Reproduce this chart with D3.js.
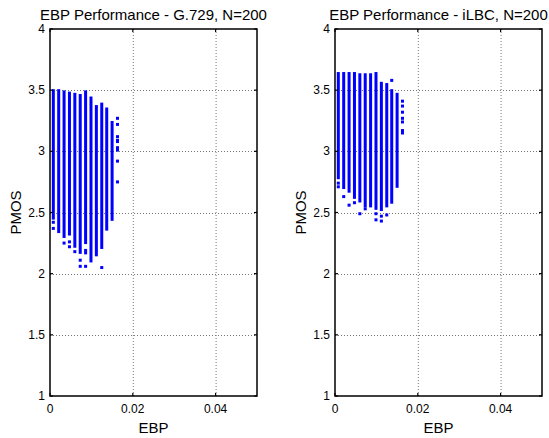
<!DOCTYPE html>
<html>
<head>
<meta charset="utf-8">
<script src="https://cdn.jsdelivr.net/npm/d3@7"></script>
<style>
  html, body { margin: 0; padding: 0; background: #fff; }
  svg { display: block; }
</style>
</head>
<body>
<svg id="chart" width="549" height="438"></svg>
<script>
// EBP value of each vertical stripe of points
const ebp = [0.0008, 0.0021, 0.0034, 0.0047, 0.0060, 0.0073, 0.0086,
             0.0099, 0.0112, 0.0125, 0.0137, 0.0150, 0.0163];

// G.729: dense PMOS range per stripe (null = only scattered points)
const g729Top    = [3.50, 3.50, 3.49, 3.48, 3.47, 3.46, 3.49, 3.44, 3.37, 3.39, 3.35, 3.24, null];
const g729Bottom = [2.45, 2.34, 2.30, 2.32, 2.22, 2.17, 2.25, 2.10, 2.15, 2.21, 2.36, 2.44, null];
// isolated points: [stripe index, PMOS]
const g729Points = [
  [0, 2.42], [0, 2.37], [2, 2.25], [3, 2.26], [3, 2.22], [4, 2.18],
  [5, 2.11], [5, 2.06], [6, 2.19], [6, 2.17], [6, 2.06], [9, 2.05],
  [12, 3.27], [12, 3.22], [12, 3.12], [12, 3.09], [12, 3.08], [12, 3.03],
  [12, 3.01], [12, 2.92], [12, 2.75]
];

// iLBC
const ilbcTop    = [3.64, 3.64, 3.64, 3.64, 3.63, 3.63, 3.63, 3.64, 3.56, 3.55, 3.50, 3.47, null];
const ilbcBottom = [2.78, 2.70, 2.67, 2.62, 2.59, 2.55, 2.55, 2.53, 2.52, 2.55, 2.58, 2.71, null];
const ilbcPoints = [
  [0, 2.74], [0, 2.71], [1, 2.63], [2, 2.56], [3, 2.58], [4, 2.49],
  [5, 2.53], [7, 2.49], [7, 2.44], [8, 2.47], [8, 2.43], [9, 2.48],
  [10, 3.58],
  [12, 3.41], [12, 3.37], [12, 3.32], [12, 3.27], [12, 3.24], [12, 3.17], [12, 3.15]
];

const xTicks = [0, 0.02, 0.04];
const yTicks = [1, 1.5, 2, 2.5, 3, 3.5, 4];

const panels = [
  { title: "EBP Performance - G.729, N=200", left: 50, top: g729Top, bottom: g729Bottom, points: g729Points },
  { title: "EBP Performance - iLBC, N=200", left: 335, top: ilbcTop, bottom: ilbcBottom, points: ilbcPoints }
];

const svg = d3.select("#chart");
const font = "'Liberation Sans', Arial, sans-serif";
const plotW = 207, plotTop = 29, plotBottom = 396;
const blue = "#0000ff";

panels.forEach(p => {
  const x = d3.scaleLinear().domain([0, 0.05]).range([p.left, p.left + plotW]);
  const y = d3.scaleLinear().domain([1, 4]).range([plotBottom, plotTop]);
  const g = svg.append("g");

  // grid
  xTicks.slice(1).forEach(t => {
    g.append("line")
      .attr("x1", x(t) + 0.5).attr("x2", x(t) + 0.5)
      .attr("y1", plotTop).attr("y2", plotBottom)
      .attr("stroke", "#777").attr("stroke-width", 1)
      .attr("stroke-dasharray", "1,2");
  });
  yTicks.slice(1, -1).forEach(t => {
    g.append("line")
      .attr("x1", p.left).attr("x2", p.left + plotW)
      .attr("y1", Math.round(y(t)) + 0.5).attr("y2", Math.round(y(t)) + 0.5)
      .attr("stroke", "#777").attr("stroke-width", 1)
      .attr("stroke-dasharray", "1,2");
  });

  // dense stripes
  ebp.forEach((e, i) => {
    if (p.top[i] == null) return;
    g.append("rect")
      .attr("x", x(e) - 1.5)
      .attr("y", y(p.top[i]) - 1)
      .attr("width", 3)
      .attr("height", y(p.bottom[i]) - y(p.top[i]) + 2)
      .attr("fill", blue);
  });

  // isolated points
  g.selectAll(null).data(p.points).join("rect")
    .attr("x", d => x(ebp[d[0]]) - 1.5)
    .attr("y", d => y(d[1]) - 1.5)
    .attr("width", 3).attr("height", 3)
    .attr("fill", blue);

  // box
  g.append("rect")
    .attr("x", p.left).attr("y", plotTop)
    .attr("width", plotW).attr("height", plotBottom - plotTop)
    .attr("fill", "none").attr("stroke", "#000").attr("stroke-width", 1.5);

  // ticks (inward, both sides)
  xTicks.forEach(t => {
    [[plotBottom, -3], [plotTop, 3]].forEach(([y0, d]) => {
      g.append("line")
        .attr("x1", x(t)).attr("x2", x(t))
        .attr("y1", y0).attr("y2", y0 + d)
        .attr("stroke", "#000").attr("stroke-width", 1.2);
    });
    g.append("text")
      .attr("x", x(t)).attr("y", plotBottom + 17)
      .attr("text-anchor", "middle")
      .attr("font-family", font).attr("font-size", 12)
      .text(t === 0 ? "0" : t.toFixed(2));
  });
  yTicks.forEach(t => {
    [[p.left, 3], [p.left + plotW, -3]].forEach(([x0, d]) => {
      g.append("line")
        .attr("x1", x0).attr("x2", x0 + d)
        .attr("y1", y(t)).attr("y2", y(t))
        .attr("stroke", "#000").attr("stroke-width", 1.2);
    });
    g.append("text")
      .attr("x", p.left - 5).attr("y", y(t) + 4)
      .attr("text-anchor", "end")
      .attr("font-family", font).attr("font-size", 12)
      .text(t);
  });

  // labels
  g.append("text")
    .attr("x", p.left + plotW / 2).attr("y", 20)
    .attr("text-anchor", "middle")
    .attr("font-family", font).attr("font-size", 15)
    .text(p.title);
  g.append("text")
    .attr("x", p.left + plotW / 2).attr("y", 433)
    .attr("text-anchor", "middle")
    .attr("font-family", font).attr("font-size", 15)
    .text("EBP");
  g.append("text")
    .attr("transform", `translate(${p.left - 29},${(plotTop + plotBottom) / 2}) rotate(-90)`)
    .attr("text-anchor", "middle")
    .attr("font-family", font).attr("font-size", 15)
    .text("PMOS");
});
</script>
</body>
</html>
